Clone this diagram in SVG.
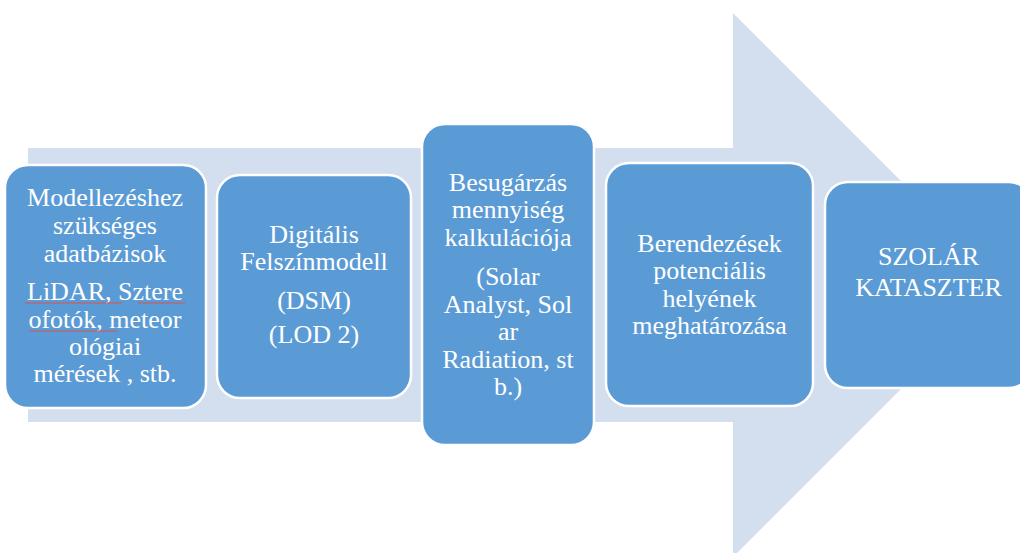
<svg xmlns="http://www.w3.org/2000/svg" width="1020" height="553" viewBox="0 0 1020 553">
<style>
.box{fill:#5B9BD5;stroke:#FFFFFF;stroke-width:2.5}
.t{font-family:"Liberation Serif","Times New Roman",serif;font-size:26px;fill:#FFFFFF;text-anchor:middle}
.sq{stroke:#D9534F;stroke-width:1;fill:none}
</style>
<rect width="1020" height="553" fill="#FFFFFF"/>
<g id="connectors">
<path d="M28,148 H733 V13 L1005,285 L733,557 V422 H28 Z" fill="#D3DEEF"/>
</g>
<g id="node1">
<rect class="box" x="5" y="165" width="201" height="243" rx="23"/>
<text class="t"><tspan x="105" y="206">Modellezéshez</tspan><tspan x="105" y="234">szükséges</tspan><tspan x="105" y="262">adatbázisok</tspan><tspan x="105" y="300">LiDAR, Sztere</tspan><tspan x="105" y="328">ofotók, meteor</tspan><tspan x="105" y="355">ológiai</tspan><tspan x="105" y="382">mérések , stb.</tspan></text>
<path class="sq" d="M25,303 H122 M138,303 H185 M29,331 H117"/>
</g>
<g id="node2">
<rect class="box" x="217" y="175" width="194" height="223" rx="23"/>
<text class="t"><tspan x="314" y="243">Digitális</tspan><tspan x="314" y="270">Felszínmodell</tspan><tspan x="314" y="309">(DSM)</tspan><tspan x="314" y="343">(LOD 2)</tspan></text>
</g>
<g id="node3">
<rect class="box" x="422" y="124" width="172" height="321" rx="23"/>
<text class="t"><tspan x="508" y="191">Besugárzás</tspan><tspan x="508" y="218">mennyiség</tspan><tspan x="508" y="246">kalkulációja</tspan><tspan x="508" y="285">(Solar</tspan><tspan x="508" y="313">Analyst, Sol</tspan><tspan x="508" y="340">ar</tspan><tspan x="508" y="368">Radiation, st</tspan><tspan x="508" y="395">b.)</tspan></text>
</g>
<g id="node4">
<rect class="box" x="606" y="163" width="207" height="243" rx="23"/>
<text class="t"><tspan x="709.5" y="252">Berendezések</tspan><tspan x="709.5" y="279">potenciális</tspan><tspan x="709.5" y="307">helyének</tspan><tspan x="709.5" y="334">meghatározása</tspan></text>
</g>
<g id="node5">
<rect class="box" x="825" y="182" width="207" height="206" rx="23"/>
<text class="t"><tspan x="928.5" y="265">SZOLÁR</tspan><tspan x="928.5" y="296">KATASZTER</tspan></text>
</g>
</svg>
